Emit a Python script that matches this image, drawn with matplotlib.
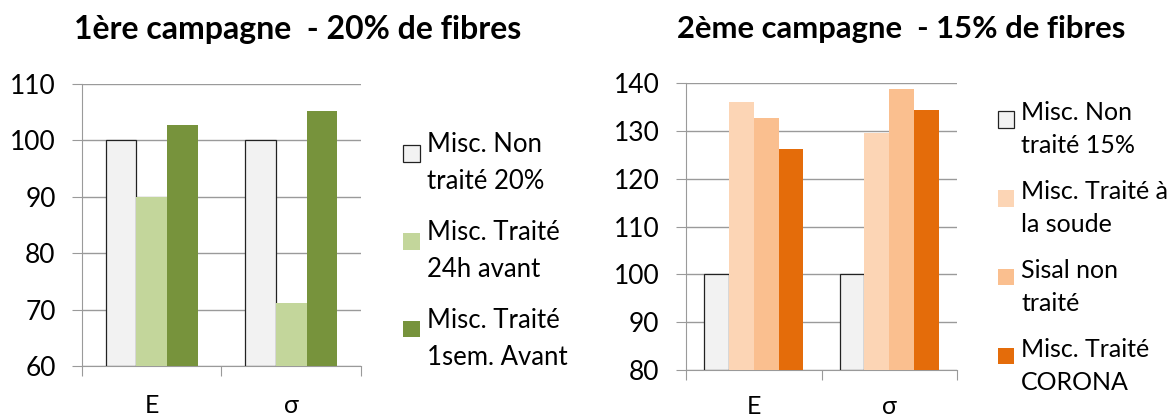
import numpy as np
import matplotlib.pyplot as plt
import matplotlib.patches as mpatches
from matplotlib.legend_handler import HandlerPatch

plt.rcParams['font.family'] = ['Lato', 'DejaVu Sans']

# données
categories = ['E', 'σ']

labels_1 = ['Misc. Non\ntraité 20%', 'Misc. Traité\n24h avant', 'Misc. Traité\n1sem. Avant']
values_1 = [[100, 100], [90, 71.1], [102.8, 105.3]]
colors_1 = ['#f2f2f2', '#c3d69b', '#77933c']

labels_2 = ['Misc. Non\ntraité 15%', 'Misc. Traité à\nla soude', 'Sisal non\ntraité', 'Misc. Traité\nCORONA']
values_2 = [[100, 100], [136.1, 129.5], [132.8, 138.8], [126.2, 134.3]]
colors_2 = ['#f2f2f2', '#fcd5b5', '#fabf8f', '#e46c0a']

grid_c = '#9a9a9a'

fig = plt.figure(figsize=(11.75, 4.16), dpi=100)
ax1 = fig.add_axes([0.0698, 0.120, 0.2374, 0.678])
ax2 = fig.add_axes([0.5838, 0.1106, 0.2307, 0.6894])


def draw(ax, values, colors, labels, width, ylim, yticks, xpad):
    x = np.arange(len(categories))
    n = len(values)
    handles = []
    for i, (vals, c, lab) in enumerate(zip(values, colors, labels)):
        off = (i - (n - 1) / 2) * width
        if i == 0:
            b = ax.bar(x + off, np.array(vals) - ylim[0], width, bottom=ylim[0],
                       color=c, edgecolor='#222222', linewidth=0.9, label=lab, zorder=3)
        else:
            b = ax.bar(x + off, np.array(vals) - ylim[0], width, bottom=ylim[0],
                       color=c, linewidth=0, label=lab, zorder=3)
        handles.append(b.patches[0])
    ax.set_xlim(-0.5, len(categories) - 0.5)
    ax.set_ylim(*ylim)
    ax.set_yticks(yticks)
    ax.tick_params(axis='y', length=7, color=grid_c, pad=12, labelsize=19)
    ax.yaxis.grid(True, color=grid_c, linewidth=1, zorder=0)
    # ticks between categories, labels at centres
    ax.set_xticks(np.arange(-0.5, len(categories)), [''] * (len(categories) + 1))
    ax.set_xticks(x, categories, minor=True)
    ax.tick_params(axis='x', which='major', length=7, color=grid_c)
    ax.tick_params(axis='x', which='minor', length=0, pad=xpad, labelsize=18)
    for s in ['top', 'right']:
        ax.spines[s].set_visible(False)
    for s in ['left', 'bottom']:
        ax.spines[s].set_color(grid_c)
    return handles


# carré de légende aligné sur la première ligne du texte
def top_square(legend, orig_handle, xdescent, ydescent, width, height, fontsize):
    s = 0.65 * fontsize
    return mpatches.Rectangle((-xdescent, -ydescent + height - s), s, s)


h1 = draw(ax1, values_1, colors_1, labels_1, 0.22, (60, 110), range(60, 111, 10), 20)
h2 = draw(ax2, values_2, colors_2, labels_2, 0.183, (80, 140), range(80, 141, 10), 18)

hmap = {mpatches.Rectangle: HandlerPatch(patch_func=top_square)}

leg1 = fig.legend(h1, labels_1, loc='center left', bbox_to_anchor=(0.343, 0.397), frameon=False,
                  fontsize=18.5, handlelength=0.65, handleheight=2.0, handletextpad=0.3,
                  labelspacing=1.0, borderpad=0, borderaxespad=0, handler_map=hmap)
leg2 = fig.legend(h2, labels_2, loc='center left', bbox_to_anchor=(0.849, 0.405), frameon=False,
                  fontsize=18, handlelength=0.65, handleheight=2.0, handletextpad=0.3,
                  labelspacing=0.9, borderpad=0, borderaxespad=0, handler_map=hmap)
for t in leg1.get_texts():
    t.set_linespacing(1.6)
for t in leg2.get_texts():
    t.set_linespacing(1.55)

fig.text(0.063, 0.930, '1ère campagne  - 20% de fibres', fontsize=23, fontweight='bold', va='center')
fig.text(0.576, 0.930, '2ème campagne  - 15% de fibres', fontsize=22.3, fontweight='bold', va='center')

fig.savefig('out.png', dpi=100)
